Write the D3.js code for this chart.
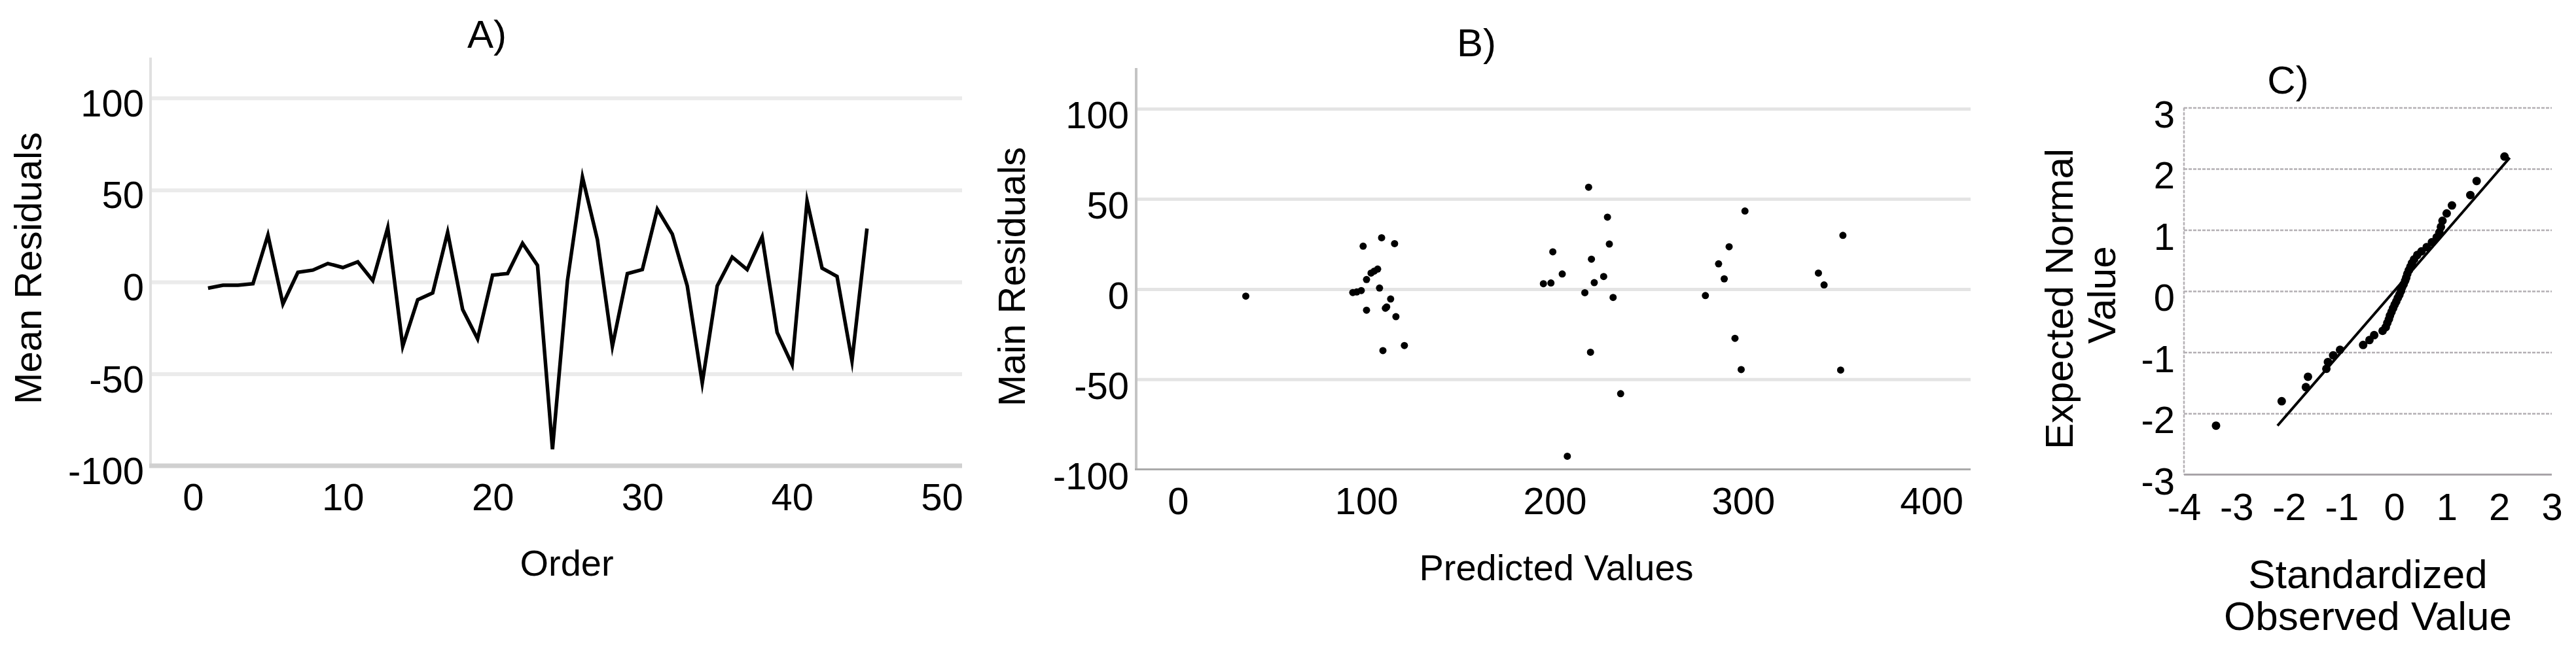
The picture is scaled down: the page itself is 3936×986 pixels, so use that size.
<!DOCTYPE html>
<html><head><meta charset="utf-8">
<script src="https://cdn.jsdelivr.net/npm/d3@7"></script>
<style>
html,body{margin:0;padding:0;background:#fff;}
svg{display:block;}
</style></head><body>
<svg id="chart" width="3936" height="986"></svg>
<script>
// ---------- DATA ----------
// Panel A: residuals in observation order
const orderA = [1,2,3,4,5,6,7,8,9,10,11,12,13,14,15,16,17,18,19,20,21,22,23,24,25,26,27,28,29,30,31,32,33,34,35,36,37,38,39,40,41,42,43,44,45];
const residualsA = [-3.4,-1.8,-1.8,-1.0,25.5,-12,5.2,6.4,10,7.8,10.9,0.7,29.5,-35,-9.7,-6,27,-15,-31,3.7,4.5,21,9,-91,0.7,57,23,-35,4.5,6.7,39.5,26,-2.2,-55,-2.2,13.5,6.7,24.5,-27.5,-45,44,7.5,3,-43,29];
const ticksAx = [0,10,20,30,40,50];
const ticksAy = [-100,-50,0,50,100];

// Panel B: residuals vs predicted values
const predictedB = [36,98.3,108.1,115,106,104.2,102.5,100.1,92.8,94.9,97.3,107,112.9,110.1,110.8,100.1,115.7,108.8,120.2,
  194,198,199,204,206.7,216,218,219.5,219,221,226,228,229,231,235,
  280,287,290,292.6,295.7,299,301,
  340,343,353,351.8];
const residualsB = [-3.9,23.8,28.5,25.2,11.1,10,8.9,5.3,-1.9,-1.6,-0.8,0.6,-5.5,-10.6,-9.9,-11.7,-15.3,-34.1,-31.3,
  3,3.4,20.7,8.4,-92.7,-2,56.5,16.6,-35,3.6,7,39.9,25,-4.6,-58,
  -3.6,14,5.7,23.5,-27.3,-44.6,43.3,
  8.9,2.3,29.8,-44.9];
const ticksBx = [0,100,200,300,400];
const ticksBy = [-100,-50,0,50,100];

// Panel C: normal Q-Q plot
const observedC = [-3.39,-2.14,-1.68,-1.64,-1.29,-1.26,-1.16,-1.03,-0.59,-0.47,-0.38,-0.22,-0.16,-0.13,-0.10,-0.08,-0.05,-0.02,0.01,0.04,0.07,0.10,0.13,0.15,0.18,0.21,0.23,0.25,0.28,0.31,0.34,0.38,0.44,0.52,0.62,0.72,0.81,0.86,0.89,0.92,1.00,1.10,1.45,1.57,2.10];
const expectedC = [-2.20,-1.80,-1.57,-1.40,-1.27,-1.16,-1.05,-0.96,-0.88,-0.80,-0.72,-0.65,-0.59,-0.52,-0.46,-0.40,-0.34,-0.28,-0.22,-0.17,-0.11,-0.06,0.00,0.06,0.11,0.17,0.22,0.28,0.34,0.40,0.46,0.52,0.59,0.65,0.72,0.80,0.88,0.96,1.05,1.15,1.27,1.40,1.57,1.80,2.20];
const refLineX = [-2.22, 2.2];
const refLineY = [-2.2, 2.18];
const ticksCx = [-4,-3,-2,-1,0,1,2,3];
const ticksCy = [-3,-2,-1,0,1,2,3];

// ---------- DRAW ----------
const FONT = '"Liberation Sans", Arial, Helvetica, sans-serif';
const svg = d3.select("#chart");
const fmt = d => String(d);

function styleTicks(g, size) {
  g.attr("font-family", FONT).attr("font-size", size);
  g.select(".domain").remove();
  g.selectAll("text").attr("fill", "#000");
}

// ===== Panel A =====
(function(){
  const x = d3.scaleLinear().domain([-2.84, 51.35]).range([230, 1470]);
  const y = d3.scaleLinear().domain([-100, 122]).range([712, 88]);
  const g = svg.append("g");
  const [x0, x1] = x.range();
  // gridlines
  g.append("g").attr("transform", `translate(${x0},0)`)
    .call(d3.axisLeft(y).tickValues([-50,0,50,100]).tickSize(-(x1 - x0)).tickFormat(""))
    .call(s => { s.select(".domain").remove(); s.selectAll("line").attr("stroke", "#ebebeb").attr("stroke-width", 6); });
  // axis lines
  g.append("line").attr("x1", x0).attr("x2", x0).attr("y1", y.range()[1]).attr("y2", y(-100))
    .attr("stroke", "#e0e0e0").attr("stroke-width", 4);
  g.append("line").attr("x1", x0 - 2).attr("x2", x1).attr("y1", y(-100)).attr("y2", y(-100))
    .attr("stroke", "#d0d0d0").attr("stroke-width", 7);
  // tick labels
  g.append("g").attr("transform", "translate(220,0)")
    .call(d3.axisLeft(y).tickValues(ticksAy).tickSize(0).tickPadding(0).tickFormat(fmt))
    .call(s => { styleTicks(s, 58); s.selectAll("text").attr("y", 9); });
  g.append("g").attr("transform", `translate(0,${y(-100)})`)
    .call(d3.axisBottom(x).tickValues(ticksAx).tickSize(0).tickPadding(27).tickFormat(fmt))
    .call(s => styleTicks(s, 58));
  // line
  const line = d3.line().x((d, i) => x(orderA[i])).y(d => y(d));
  g.append("path").datum(residualsA).attr("d", line)
    .attr("fill", "none").attr("stroke", "#000").attr("stroke-width", 5.5)
    .attr("stroke-linejoin", "miter").attr("stroke-miterlimit", 10);
  // titles
  g.append("text").attr("x", 744).attr("y", 73).attr("text-anchor", "middle")
    .attr("font-family", FONT).attr("font-size", 60).text("A)");
  g.append("text").attr("transform", "translate(63,410) rotate(-90)").attr("text-anchor", "middle")
    .attr("font-family", FONT).attr("font-size", 58).text("Mean Residuals");
  g.append("text").attr("x", 866).attr("y", 880).attr("text-anchor", "middle")
    .attr("font-family", FONT).attr("font-size", 56).text("Order");
})();

// ===== Panel B =====
(function(){
  const x = d3.scaleLinear().domain([-22.2, 420.8]).range([1736, 3011]);
  const y = d3.scaleLinear().domain([-100, 122.6]).range([717.6, 104]);
  const g = svg.append("g");
  const [x0, x1] = x.range();
  g.append("g").attr("transform", `translate(${x0},0)`)
    .call(d3.axisLeft(y).tickValues([-50,0,50,100]).tickSize(-(x1 - x0)).tickFormat(""))
    .call(s => { s.select(".domain").remove(); s.selectAll("line").attr("stroke", "#e4e4e4").attr("stroke-width", 5); });
  g.append("line").attr("x1", x0).attr("x2", x0).attr("y1", y.range()[1]).attr("y2", y(-100))
    .attr("stroke", "#c4c4c4").attr("stroke-width", 4);
  g.append("line").attr("x1", x0 - 2).attr("x2", x1).attr("y1", y(-100)).attr("y2", y(-100))
    .attr("stroke", "#aaaaaa").attr("stroke-width", 3);
  g.append("g").attr("transform", "translate(1725,0)")
    .call(d3.axisLeft(y).tickValues(ticksBy).tickSize(0).tickPadding(0).tickFormat(fmt))
    .call(s => { styleTicks(s, 58); s.selectAll("text").attr("y", 11); });
  g.append("g").attr("transform", `translate(0,${y(-100)})`)
    .call(d3.axisBottom(x).tickValues(ticksBx).tickSize(0).tickPadding(27).tickFormat(fmt))
    .call(s => styleTicks(s, 58));
  g.append("g").selectAll("circle").data(predictedB).join("circle")
    .attr("cx", d => x(d)).attr("cy", (d, i) => y(residualsB[i])).attr("r", 5.5).attr("fill", "#000");
  g.append("text").attr("x", 2256).attr("y", 86).attr("text-anchor", "middle")
    .attr("font-family", FONT).attr("font-size", 60).text("B)");
  g.append("text").attr("transform", "translate(1566,423) rotate(-90)").attr("text-anchor", "middle")
    .attr("font-family", FONT).attr("font-size", 58).text("Main Residuals");
  g.append("text").attr("x", 2378).attr("y", 887).attr("text-anchor", "middle")
    .attr("font-family", FONT).attr("font-size", 56).text("Predicted Values");
})();

// ===== Panel C =====
(function(){
  const x = d3.scaleLinear().domain([-4, 3]).range([3337, 3899]);
  const y = d3.scaleLinear().domain([-3, 3]).range([725.5, 164.5]);
  const g = svg.append("g");
  const [x0, x1] = x.range();
  g.append("g").attr("transform", `translate(${x0},0)`)
    .call(d3.axisLeft(y).tickValues([-2,-1,0,1,2,3]).tickSize(-(x1 - x0)).tickFormat(""))
    .call(s => { s.select(".domain").remove(); s.selectAll("line").attr("stroke", "#b4b0b4").attr("stroke-width", 2.5).attr("stroke-dasharray", "5,2"); });
  g.append("line").attr("x1", x0).attr("x2", x0).attr("y1", y(3)).attr("y2", y(-3))
    .attr("stroke", "#b4b0b4").attr("stroke-width", 2.5).attr("stroke-dasharray", "5,2");
  g.append("line").attr("x1", x0).attr("x2", x1).attr("y1", y(-3)).attr("y2", y(-3))
    .attr("stroke", "#a8a4a8").attr("stroke-width", 3);
  g.append("g").attr("transform", "translate(3323,0)")
    .call(d3.axisLeft(y).tickValues(ticksCy).tickSize(0).tickPadding(0).tickFormat(fmt))
    .call(s => { styleTicks(s, 58); s.selectAll("text").attr("y", 11); });
  g.append("g").attr("transform", `translate(0,${y(-3)})`)
    .call(d3.axisBottom(x).tickValues(ticksCx).tickSize(0).tickPadding(28).tickFormat(fmt))
    .call(s => styleTicks(s, 58));
  g.append("line")
    .attr("x1", x(refLineX[0])).attr("y1", y(refLineY[0]))
    .attr("x2", x(refLineX[1])).attr("y2", y(refLineY[1]))
    .attr("stroke", "#000").attr("stroke-width", 4);
  g.append("g").selectAll("circle").data(observedC).join("circle")
    .attr("cx", d => x(d)).attr("cy", (d, i) => y(expectedC[i])).attr("r", 6.5).attr("fill", "#000");
  g.append("text").attr("x", 3496).attr("y", 143).attr("text-anchor", "middle")
    .attr("font-family", FONT).attr("font-size", 60).text("C)");
  g.append("text").attr("transform", "translate(3167,457) rotate(-90)").attr("text-anchor", "middle")
    .attr("font-family", FONT).attr("font-size", 60).text("Expected Normal");
  g.append("text").attr("transform", "translate(3232,451) rotate(-90)").attr("text-anchor", "middle")
    .attr("font-family", FONT).attr("font-size", 60).text("Value");
  g.append("text").attr("x", 3618).attr("y", 899).attr("text-anchor", "middle")
    .attr("font-family", FONT).attr("font-size", 62).text("Standardized");
  g.append("text").attr("x", 3618).attr("y", 963).attr("text-anchor", "middle")
    .attr("font-family", FONT).attr("font-size", 62).text("Observed Value");
})();
</script>
</body></html>
